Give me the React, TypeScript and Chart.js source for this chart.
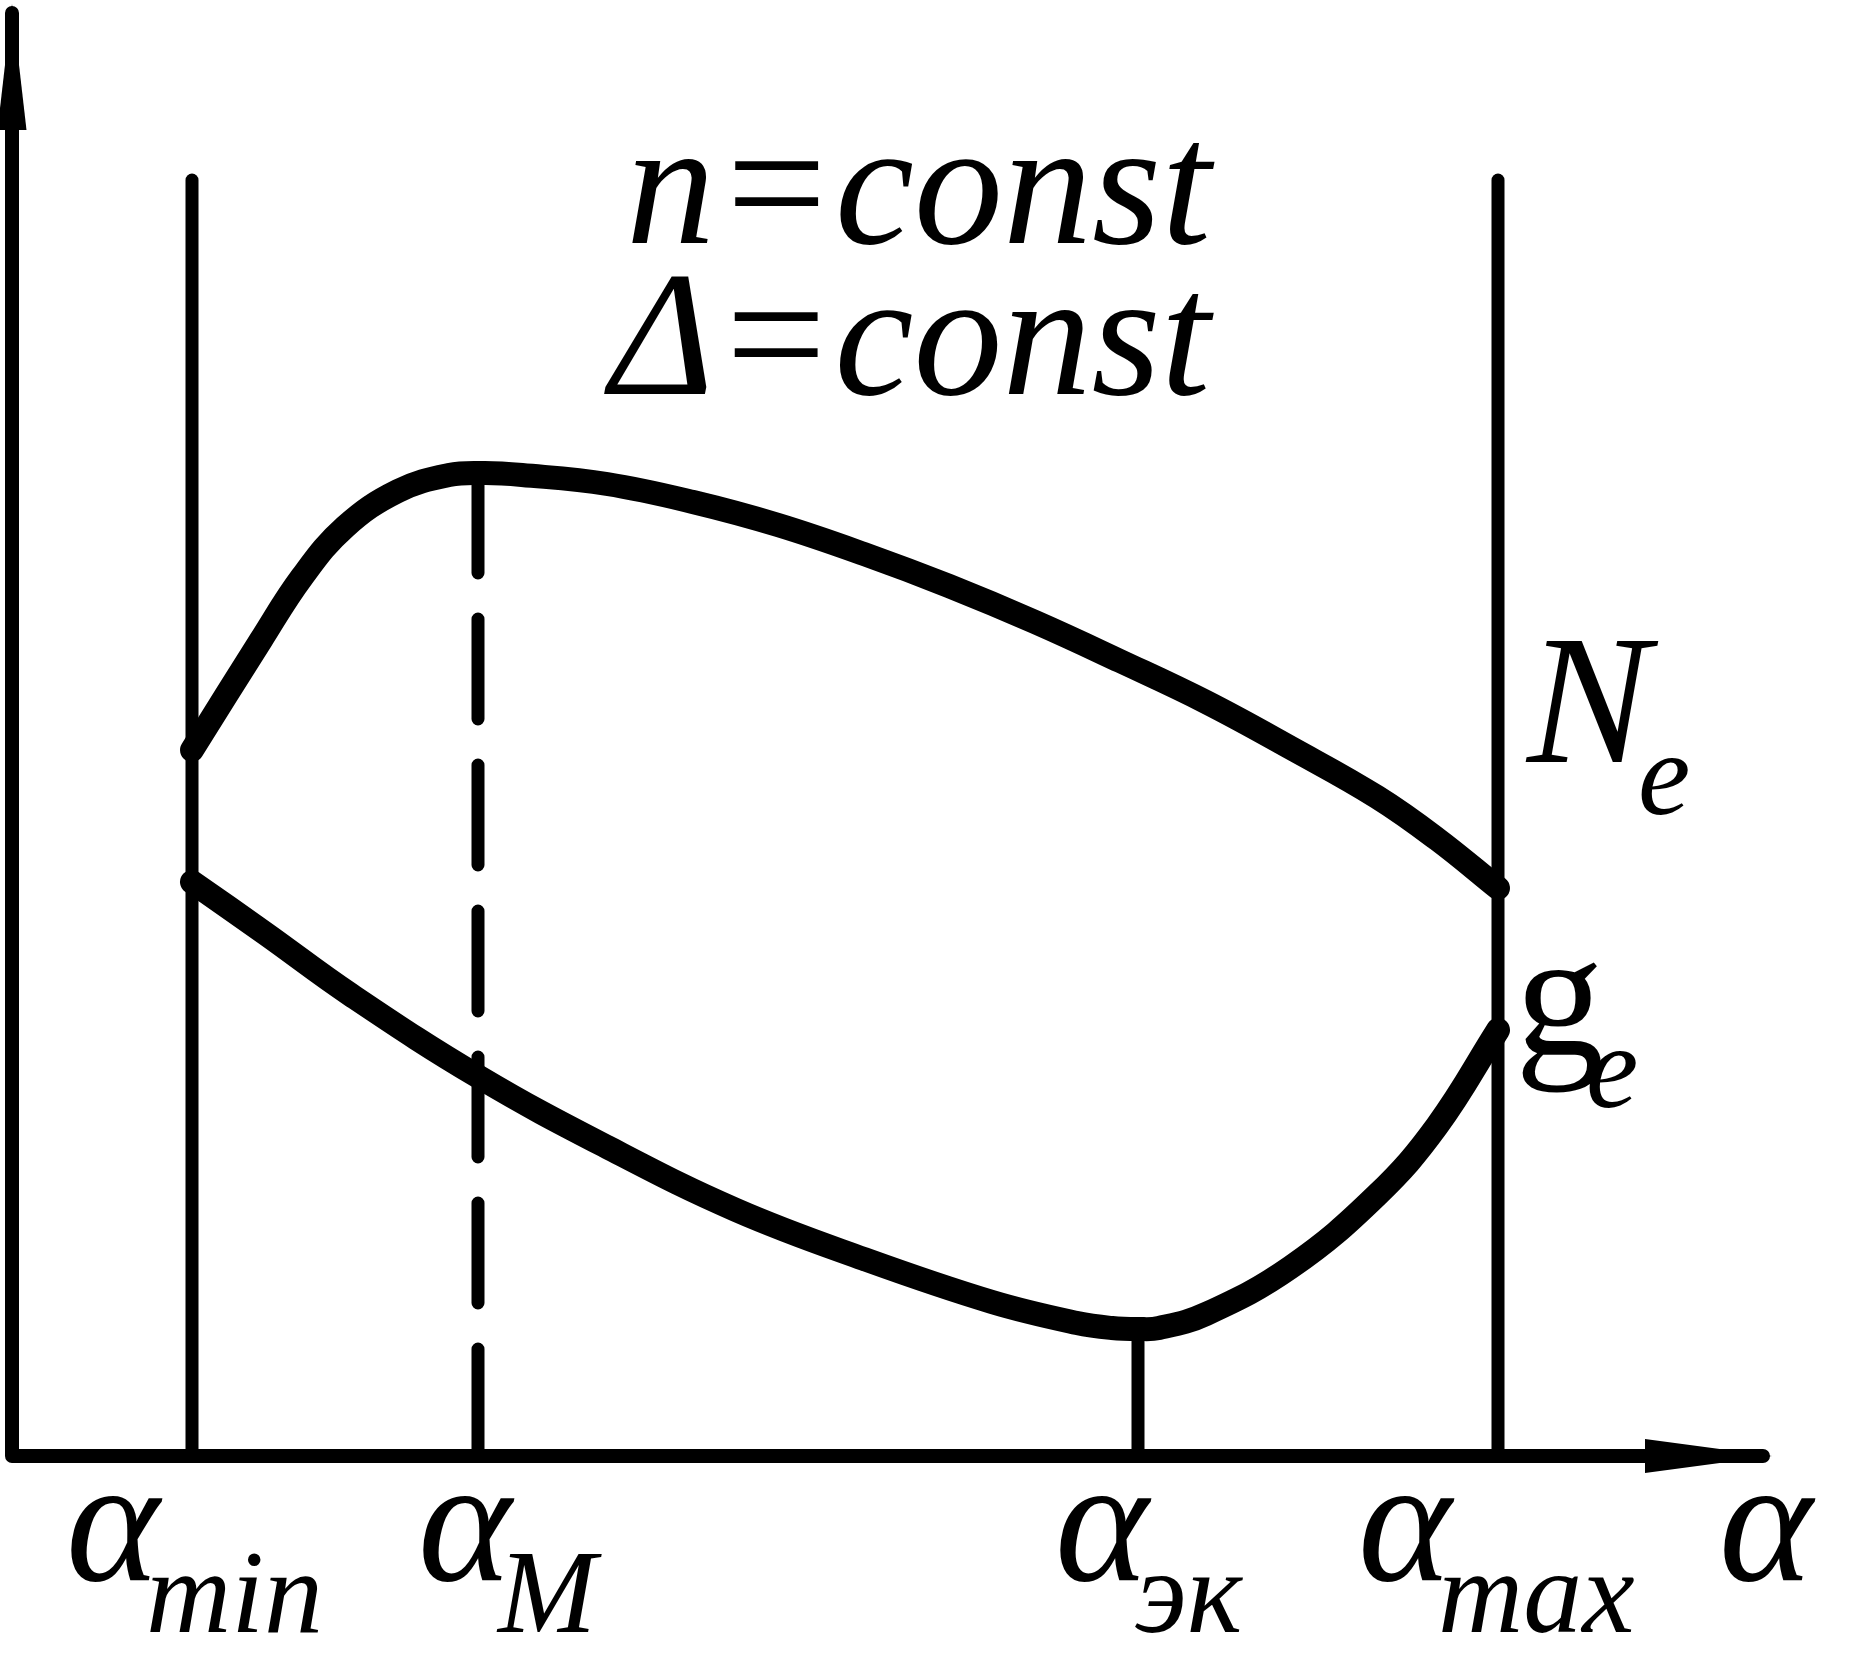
import React, { useEffect, useRef } from 'react';
import { Chart, registerables } from 'chart.js';

Chart.register(...registerables);

const W = 1855;
const H = 1671;

// Characteristic values of α (arbitrary schematic units)
const alphaMin = 18.0;
const alphaM = 46.6;
const alphaEk = 112.6;
const alphaMax = 148.6;
const boundaryTop = 127.6;
const axisYTop = 144.3;
const axisXEnd = 175.1;

// N_e curve (power)
const neAlpha = [18.0, 24.9, 29.0, 33.3, 38.6, 43.7, 47.3, 51.0, 59.5, 68.1, 76.6, 85.2, 93.7, 102.3, 110.8, 119.4, 127.9, 136.5, 142.5, 148.6];
const neValues = [70.6, 81.6, 87.9, 92.9, 96.5, 98.1, 98.3, 98.1, 97.2, 95.4, 93.1, 90.2, 87.0, 83.4, 79.5, 75.4, 70.8, 65.9, 61.7, 56.8];

// g_e curve (specific consumption)
const geAlpha = [18.0, 25.4, 33.9, 46.7, 59.5, 72.4, 85.2, 98.0, 106.5, 110.0, 112.6, 114.7, 119.4, 127.9, 136.5, 142.5, 148.6];
const geValues = [57.4, 52.2, 46.1, 37.9, 30.9, 24.6, 19.7, 15.4, 13.3, 12.8, 12.7, 12.8, 14.2, 18.9, 26.1, 33.0, 42.6];

// Texts
const titleLines = ['n=const', 'Δ=const'];
const tickValues = [alphaMin, alphaM, alphaEk, alphaMax];
const tickMain = ['α', 'α', 'α', 'α'];
const tickSubs = ['min', 'M', 'эк', 'max'];
const axisLabel = 'α';
const curveMain = ['N', 'g'];
const curveSub = ['e', 'e'];

const pts = (xs: number[], ys: number[]) => xs.map((x, i) => ({ x, y: ys[i] }));

const FAM = '"Liberation Serif", "Times New Roman", serif';
const BIG_I = `italic 178px ${FAM}`;
const BIG_R = `178px ${FAM}`;
const N_I = `italic 184px ${FAM}`;
const SUB_I = `italic 118px ${FAM}`;

const decorPlugin = {
  id: 'decor',
  afterDraw(chart: any) {
    const { ctx, scales } = chart;
    const xs = scales.x;
    const ys = scales.y;
    ctx.save();
    ctx.fillStyle = '#000';
    ctx.textAlign = 'left';
    ctx.textBaseline = 'alphabetic';

    // arrowheads at the axis ends
    const ox = xs.getPixelForValue(0);
    const oy = ys.getPixelForValue(0);
    const yTop = ys.getPixelForValue(axisYTop);
    ctx.beginPath();
    ctx.moveTo(ox, yTop - 9);
    ctx.lineTo(ox - 14.5, yTop + 117);
    ctx.lineTo(ox + 14.5, yTop + 117);
    ctx.closePath();
    ctx.fill();
    const xEnd = xs.getPixelForValue(axisXEnd);
    ctx.beginPath();
    ctx.moveTo(xEnd + 9, oy);
    ctx.lineTo(xEnd - 118, oy - 17);
    ctx.lineTo(xEnd - 118, oy + 17);
    ctx.closePath();
    ctx.fill();

    // title
    ctx.font = BIG_I;
    ctx.fillText(titleLines[0], 626, 243);
    ctx.fillText(titleLines[1], 610, 394);

    // tick labels
    const offs = [-126, -60, -83, -140];
    tickValues.forEach((v, i) => {
      const px = xs.getPixelForValue(v) + offs[i];
      ctx.font = BIG_I;
      ctx.fillText(tickMain[i], px, 1580);
      ctx.font = SUB_I;
      ctx.fillText(tickSubs[i], px + 80, 1632);
    });
    ctx.font = BIG_I;
    ctx.fillText(axisLabel, 1719, 1580);

    // curve labels
    ctx.font = N_I;
    ctx.fillText(curveMain[0], 1527, 762);
    ctx.font = SUB_I;
    ctx.fillText(curveSub[0], 1638, 814);
    ctx.font = BIG_R;
    ctx.fillText(curveMain[1], 1515, 1054);
    ctx.font = SUB_I;
    ctx.fillText(curveSub[1], 1586, 1107);

    ctx.restore();
  },
};

export default function App() {
  const ref = useRef<HTMLCanvasElement | null>(null);
  useEffect(() => {
    if (!ref.current) return;
    const black = '#000000';
    const base = {
      showLine: true,
      pointRadius: 0,
      pointHoverRadius: 0,
      borderColor: black,
      backgroundColor: black,
      fill: false,
      borderCapStyle: 'round',
      borderJoinStyle: 'round',
    };
    const chart = new Chart(ref.current, {
      type: 'scatter',
      data: {
        datasets: [
          { ...base, label: 'axes', data: [{ x: 0, y: axisYTop }, { x: 0, y: 0 }, { x: axisXEnd, y: 0 }], borderWidth: 14 },
          { ...base, label: 'αmin', data: [{ x: alphaMin, y: 0 }, { x: alphaMin, y: boundaryTop }], borderWidth: 13 },
          { ...base, label: 'αmax', data: [{ x: alphaMax, y: 0 }, { x: alphaMax, y: boundaryTop }], borderWidth: 13 },
          { ...base, label: 'αM', data: [{ x: alphaM, y: 98.3 }, { x: alphaM, y: 0 }], borderWidth: 13, borderDash: [100, 46] },
          { ...base, label: 'αэк', data: [{ x: alphaEk, y: 12.7 }, { x: alphaEk, y: 0 }], borderWidth: 13, borderCapStyle: 'butt' },
          { ...base, label: 'Ne', data: pts(neAlpha, neValues), borderWidth: 24, tension: 0.4 },
          { ...base, label: 'ge', data: pts(geAlpha, geValues), borderWidth: 24, tension: 0.4 },
        ],
      } as any,
      options: {
        responsive: false,
        animation: false,
        devicePixelRatio: 1,
        layout: { padding: 0 },
        plugins: { legend: { display: false }, tooltip: { enabled: false } },
        events: [],
        scales: {
          x: { type: 'linear', display: false, min: -1.2, max: 184.3 },
          y: { type: 'linear', display: false, min: -21.5, max: 145.6 },
        },
      } as any,
      plugins: [decorPlugin],
    });
    return () => chart.destroy();
  }, []);
  return (
    <div style={{ position: 'absolute', left: 0, top: 0, width: W, height: H, background: '#fff' }}>
      <canvas ref={ref} width={W} height={H} style={{ display: 'block', width: W, height: H }} />
    </div>
  );
}
